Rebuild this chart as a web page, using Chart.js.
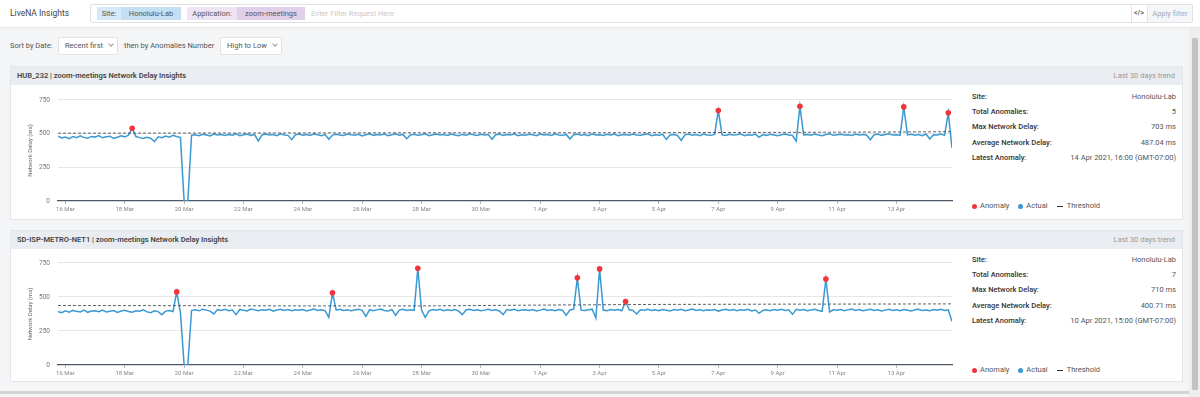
<!DOCTYPE html>
<html>
<head>
<meta charset="utf-8">
<script src="https://cdn.jsdelivr.net/npm/chart.js@4.4.1/dist/chart.umd.min.js"></script>
<style>
  * { box-sizing: border-box; }
  body { margin: 0; width: 1200px; height: 397px; overflow: hidden; background: #f4f5f7;
         font-family: Roboto, "Noto Sans", sans-serif; color: #555; position: relative; }
  .abs { position: absolute; }
  #topbar { left: 0; top: 0; width: 1200px; height: 28px; background: #fff; border-bottom: 1px solid #e8e8e8; }
  .brand { left: 10px; top: 7px; font-size: 8.5px; color: #444; line-height: 12px; }
  .filter { left: 90px; top: 4px; width: 1103px; height: 19px; border: 1px solid #e1e1e1; border-radius: 2px; background: #fff; }
  .chip { top: 7px; height: 13px; display: flex; font-size: 7.5px; line-height: 13px; color: #555; }
  .chip span { display: block; height: 13px; text-align: center; }
  .ph { left: 311px; top: 7px; font-size: 7.5px; line-height: 13px; color: #c9c9c9; }
  .sep { top: 5px; width: 1px; height: 17px; background: #e4e4e4; }
  .code { left: 1134px; top: 7px; font-size: 7px; line-height: 13px; color: #666; font-weight: bold; }
  .apply { left: 1148px; top: 5px; width: 44px; height: 17px; background: #f4f6fa; font-size: 7.5px; line-height: 17px; color: #aaa; text-align: center; }
  .lbl { font-size: 7.5px; line-height: 12px; color: #555; }
  .dd { height: 18px; background: #fff; border: 1px solid #e2e2e2; border-radius: 2px; font-size: 7.5px; line-height: 16px; color: #555; padding-left: 6px; }
  .chev { position: absolute; top: 4px; width: 4px; height: 4px; border-right: 1px solid #999; border-bottom: 1px solid #999; transform: rotate(45deg); }
  .panel { left: 10px; width: 1173px; background: #fff; border: 1px solid #e3e5e9; }
  .phead { position: absolute; left: 0; top: 0; width: 100%; height: 18px; background: #e9ecf0; }
  .ptitle { position: absolute; left: 6px; top: 3px; font-size: 7.5px; line-height: 12px; font-weight: 600; color: #444; }
  .ptrend { position: absolute; right: 7px; top: 3px; font-size: 7.5px; line-height: 12px; color: #999; }
  .info { position: absolute; left: 961px; width: 204px; }
  .row { display: flex; justify-content: space-between; height: 15.2px; line-height: 15.2px; font-size: 7.5px; }
  .row b { font-weight: 500; color: #333; }
  .row span { color: #555; }
  .legend { position: absolute; left: 961px; font-size: 7.5px; line-height: 10px; color: #555; display: flex; align-items: center; }
  .dot { display: inline-block; width: 5px; height: 5px; border-radius: 50%; margin-right: 3px; }
  .dash { display: inline-block; width: 6px; border-top: 1.2px dashed #333; margin-right: 4px; }
  .cbox { position: absolute; }
  #track { left: 1189px; top: 28px; width: 11px; height: 369px; background: #eeeeee; }
  #thumb { left: 1192px; top: 38px; width: 6px; height: 352px; background: #c3c3c3; border-radius: 1px; }
  #bottom { left: 0; top: 391px; width: 1189px; height: 3px; background: #d4d4d4; }
</style>
</head>
<body>

<div id="topbar" class="abs"></div>
<div class="abs brand">LiveNA Insights</div>
<div class="abs filter"></div>
<div class="abs chip" style="left:97px">
  <span style="width:24px;background:#d6e9f8">Site:</span>
  <span style="width:60px;background:#c4def4">Honolulu-Lab</span>
</div>
<div class="abs chip" style="left:187px">
  <span style="width:50px;background:#efe4f3">Application:</span>
  <span style="width:68px;background:#e2d0ea">zoom-meetings</span>
</div>
<div class="abs ph">Enter Filter Request Here</div>
<div class="abs sep" style="left:1131px"></div>
<div class="abs code">&lt;/&gt;</div>
<div class="abs sep" style="left:1147px"></div>
<div class="abs apply">Apply filter</div>

<div class="abs lbl" style="left:10px;top:40px">Sort by Date:</div>
<div class="abs dd" style="left:58px;top:37px;width:60px">Recent first<i class="chev" style="left:50px"></i></div>
<div class="abs lbl" style="left:124px;top:40px">then by Anomalies Number</div>
<div class="abs dd" style="left:220px;top:37px;width:62px">High to Low<i class="chev" style="left:52px"></i></div>

<div class="abs panel" style="top:66px;height:154px">
  <div class="phead"><div class="ptitle">HUB_232 | zoom-meetings Network Delay Insights</div><div class="ptrend">Last 30 days trend</div></div>
  <div class="info" style="top:22px">
    <div class="row"><b>Site:</b><span style="color:#555">Honolulu-Lab</span></div>
    <div class="row"><b>Total Anomalies:</b><span>5</span></div>
    <div class="row"><b>Max Network Delay:</b><span>703 ms</span></div>
    <div class="row"><b>Average Network Delay:</b><span>487.04 ms</span></div>
    <div class="row"><b>Latest Anomaly:</b><span>14 Apr 2021, 16:00 (GMT-07:00)</span></div>
  </div>
  <div class="legend" style="top:134px">
    <i class="dot" style="background:#f2353d"></i>Anomaly
    <i class="dot" style="background:#3b99d2;margin-left:9px"></i>Actual
    <i class="dash" style="margin-left:9px"></i>Threshold
  </div>
</div>

<div class="abs panel" style="top:230px;height:152px">
  <div class="phead"><div class="ptitle">SD-ISP-METRO-NET1 | zoom-meetings Network Delay Insights</div><div class="ptrend">Last 30 days trend</div></div>
  <div class="info" style="top:21px">
    <div class="row"><b>Site:</b><span style="color:#555">Honolulu-Lab</span></div>
    <div class="row"><b>Total Anomalies:</b><span>7</span></div>
    <div class="row"><b>Max Network Delay:</b><span>710 ms</span></div>
    <div class="row"><b>Average Network Delay:</b><span>400.71 ms</span></div>
    <div class="row"><b>Latest Anomaly:</b><span>10 Apr 2021, 15:00 (GMT-07:00)</span></div>
  </div>
  <div class="legend" style="top:134px">
    <i class="dot" style="background:#f2353d"></i>Anomaly
    <i class="dot" style="background:#3b99d2;margin-left:9px"></i>Actual
    <i class="dash" style="margin-left:9px"></i>Threshold
  </div>
</div>

<div class="cbox" style="left:20px;top:88px;width:936px;height:130px"><canvas id="chart1"></canvas></div>
<div class="cbox" style="left:20px;top:251px;width:936px;height:131px"><canvas id="chart2"></canvas></div>

<div id="track" class="abs"></div>
<div id="thumb" class="abs"></div>
<div id="bottom" class="abs"></div>

<script>
// hours counted from 16 Mar 00:00, samples every 3 hours
const startHour = -6;
const stepHour = 3;
const tickHours = [0, 48, 96, 144, 192, 240, 288, 336, 384, 432, 480, 528, 576, 624, 672];
const tickLabels = ['16 Mar', '18 Mar', '20 Mar', '22 Mar', '24 Mar', '26 Mar', '28 Mar', '30 Mar',
                    '1 Apr', '3 Apr', '5 Apr', '7 Apr', '9 Apr', '11 Apr', '13 Apr'];
const thrHours = [-6, 96, 192, 288, 384, 480, 576, 672, 717];

// HUB_232
const actual1 = [
  480, 468, 475, 462, 478, 470, 483, 472, 466, 479, 474, 486, 469, 477, 481, 465, 473, 484, 476, 488,
  540, 478, 470, 463, 472, 466, 440, 476, 469, 482, 474, 487, 478, 470, 0, 0,
  488, 492, 485, 495, 490, 483, 497, 489, 493, 486,
  494, 488, 499, 484, 491, 496, 487, 493, 445, 490,
  496, 489, 493, 485, 498, 490, 487, 455, 492, 497,
  488, 494, 486, 499, 491, 484, 493, 458, 489, 495,
  490, 486, 497, 492, 488, 495, 483, 491, 498, 487,
  493, 489, 496, 484, 492, 499, 488, 494, 462, 490,
  495, 487, 492, 498, 485, 491, 496, 489, 493, 486,
  497, 490, 484, 494, 488, 499, 492, 486, 495, 489,
  493, 458, 491, 496, 487, 494, 490, 498, 485, 492,
  488, 495, 491, 484, 497, 489, 493, 486, 499, 490,
  487, 494, 460, 491, 496, 488, 493, 485, 498, 490,
  492, 486, 495, 489, 497, 484, 491, 494, 488, 496,
  490, 487, 493, 499, 485, 492, 488, 495, 457, 490,
  494, 486, 450, 491, 497, 488, 493, 485, 496, 490,
  487, 494, 671, 490, 486, 495, 489, 492, 498, 485,
  491, 488, 496, 472, 493, 487, 495, 490, 484, 492,
  497, 489, 486, 445, 703, 491, 494, 488, 496, 490,
  485, 493, 498, 487, 491, 495, 489, 492, 486, 497,
  490, 494, 488, 455, 492, 496, 487, 493, 499, 489,
  491, 486, 698, 490, 495, 488, 493, 484, 497, 460,
  492, 489, 496, 487, 655, 394
];
const anomHours1 = [54, 528, 594, 678, 714];
const anomValues1 = [540, 671, 703, 698, 655];
const threshold1 = [503, 504, 505, 506, 506, 507, 509, 512, 514];

// SD-ISP-METRO-NET1
const actual2 = [
  392, 385, 398, 388, 401, 394, 390, 403, 387, 396,
  399, 391, 404, 389, 395, 400, 386, 397, 402, 393,
  388, 399, 395, 405, 390, 384, 398, 392, 370, 396,
  401, 393, 537, 385, 0, 0,
  400, 406, 398, 410, 403, 396, 375, 407, 401, 409,
  399, 404, 370, 408, 402, 397, 411, 405, 398, 406,
  403, 409, 396, 404, 410, 400, 407, 398, 405, 402,
  408, 397, 404, 411, 401, 406, 399, 350, 530, 403,
  409, 400, 406, 398, 404, 410, 402, 357, 407, 399,
  405, 411, 401, 396, 408, 365, 403, 409, 400, 406,
  402, 710, 404, 350, 398, 407, 403, 410, 399, 405,
  401, 408, 396, 370, 404, 410, 400, 406, 398, 403,
  409, 401, 405, 397, 370, 407, 402, 410, 399, 404,
  406, 400, 408, 397, 403, 411, 401, 405, 398, 407,
  402, 365, 404, 409, 640, 403, 400, 406, 410, 345,
  706, 404, 399, 407, 402, 408, 398, 467, 405, 401,
  375, 406, 403, 410, 400, 405, 398, 408, 402, 396,
  407, 403, 409, 399, 404, 411, 401, 406, 398, 405,
  402, 408, 396, 404, 410, 400, 407, 398, 405, 402,
  409, 397, 404, 380, 401, 406, 399, 408, 403, 410,
  400, 405, 372, 409, 402, 407, 398, 404, 410, 401,
  395, 631, 390, 406, 402, 408, 399, 405, 411, 401,
  407, 398, 404, 410, 400, 406, 397, 403, 409, 401,
  405, 399, 408, 402, 396, 406, 410, 400, 404, 398,
  407, 403, 409, 401, 405, 320
];
const anomHours2 = [90, 216, 285, 414, 432, 453, 615];
const anomValues2 = [537, 530, 710, 640, 706, 467, 631];
const threshold2 = [437, 436, 434, 434, 440, 445, 447, 448, 449];

Chart.defaults.font.family = 'Roboto';
Chart.defaults.color = '#777';

function makeChart(id, actual, anomHours, anomValues, threshold) {
  const actualPts = actual.map((v, i) => ({ x: startHour + i * stepHour, y: v }));
  const anomPts = anomHours.map((h, i) => ({ x: h, y: anomValues[i] }));
  const thrPts = thrHours.map((h, i) => ({ x: h, y: threshold[i] }));
  return new Chart(document.getElementById(id), {
    type: 'line',
    data: {
      datasets: [
        { label: 'Anomaly', data: anomPts, showLine: false, pointRadius: 2.8,
          pointBackgroundColor: '#f2353d', pointBorderWidth: 0, order: 0 },
        { label: 'Threshold', data: thrPts, borderColor: '#4a4f57', borderWidth: 0.9,
          borderDash: [3, 2], pointRadius: 0, order: 1 },
        { label: 'Actual', data: actualPts, borderColor: '#3b99d2', borderWidth: 1.5,
          pointRadius: 0, tension: 0, order: 2 }
      ]
    },
    options: {
      responsive: true,
      maintainAspectRatio: false,
      animation: false,
      layout: { padding: { top: 7, right: 2, left: 0, bottom: 0 } },
      plugins: { legend: { display: false }, tooltip: { enabled: false } },
      scales: {
        x: {
          type: 'linear',
          min: -6,
          max: 717,
          afterBuildTicks: (s) => { s.ticks = tickHours.map(v => ({ value: v })); },
          afterFit: (s) => { s.height = 17; },
          grid: { display: true, drawOnChartArea: false, drawTicks: true, tickLength: 3, color: '#b8b8b8' },
          border: { display: true, color: '#4d5866', width: 1.2 },
          ticks: {
            autoSkip: false, maxRotation: 0, padding: 2,
            font: { size: 6 }, color: '#888',
            callback: (v) => { const k = tickHours.indexOf(v); return k >= 0 ? tickLabels[k] : ''; }
          }
        },
        y: {
          min: 0,
          max: 750,
          afterFit: (s) => { s.width = 38; },
          grid: { drawTicks: false, color: (c) => c.tick.value === 0 ? 'rgba(0,0,0,0)' : '#e6e6e6' },
          border: { display: false },
          ticks: { stepSize: 250, padding: 8, font: { size: 6.5 }, color: '#777' },
          title: { display: true, text: 'Network Delay (ms)', font: { size: 6 }, color: '#666',
                   padding: { top: 7, bottom: 0 } }
        }
      }
    }
  });
}

makeChart('chart1', actual1, anomHours1, anomValues1, threshold1);
makeChart('chart2', actual2, anomHours2, anomValues2, threshold2);
</script>
</body>
</html>
